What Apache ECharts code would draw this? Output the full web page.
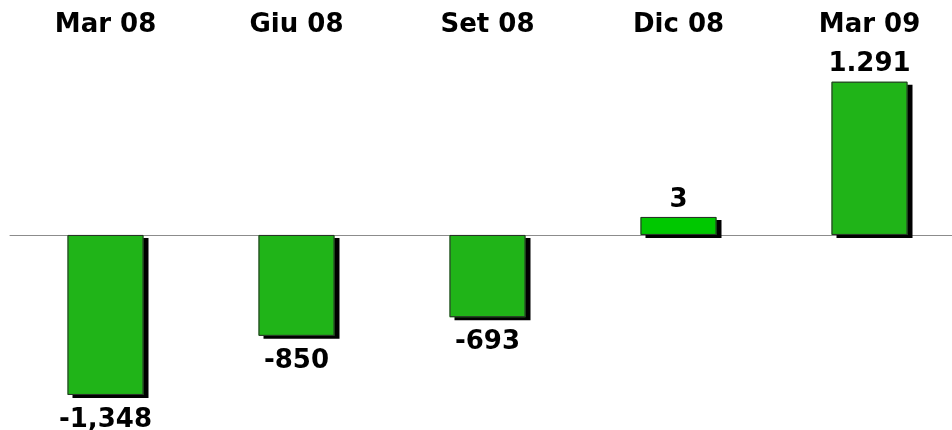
<!DOCTYPE html>
<html>
<head>
<meta charset="utf-8">
<script src="https://cdn.jsdelivr.net/npm/echarts@6/dist/echarts.min.js"></script>
<style>
  html, body { margin: 0; padding: 0; background: #fff; overflow: hidden; }
  #chart { width: 965px; height: 430px; }
</style>
</head>
<body>
<div id="chart"></div>
<script>
// periods and values
const categories = ["Mar 08", "Giu 08", "Set 08", "Dic 08", "Mar 09"];
const values = [-1348, -850, -693, 3, 1291];
// labels as printed on the chart (mixed separators kept as in original)
const valueLabels = ["-1,348", "-850", "-693", "3", "1.291"];

const font = "DejaVu Sans";
const labelFont = {
  color: "#000",
  fontFamily: font,
  fontWeight: "bold",
  fontSize: 26
};

function barData(withLabel) {
  return values.map((v, i) => {
    const item = { value: v };
    if (i === 3) item.itemStyle = { color: "#00c800" };
    if (withLabel) {
      item.label = v < 0
        ? { position: "bottom", distance: 12 }
        : { position: "top", distance: 4 };
    }
    return item;
  });
}

// chart div is a bit wider than the window: last band runs past the edge
const chart = echarts.init(document.getElementById("chart"));

chart.setOption({
  animation: false,
  grid: {
    left: 10,
    right: 0,
    top: 45,
    bottom: 17
  },
  xAxis: [
    {
      type: "category",
      data: categories,
      axisLine: { onZero: true, lineStyle: { color: "#8c8c8c", width: 1 } },
      axisTick: { show: false },
      axisLabel: { show: false }
    },
    {
      type: "category",
      position: "top",
      data: categories,
      axisLine: { show: false },
      axisTick: { show: false },
      axisLabel: Object.assign({ margin: 7 }, labelFont)
    }
  ],
  yAxis: {
    type: "value",
    min: -1500,
    max: 1600,
    show: false,
    splitLine: { show: false }
  },
  series: [
    // shadow layer
    {
      type: "bar",
      data: barData(false),
      barWidth: 76,
      barMinHeight: 18,
      barGap: "-100%",
      silent: true,
      itemStyle: {
        color: "#20b418",
        shadowColor: "#000",
        shadowBlur: 0,
        shadowOffsetX: 5,
        shadowOffsetY: 3
      }
    },
    // bars with outline and labels
    {
      type: "bar",
      data: barData(true),
      barWidth: 76,
      barMinHeight: 18,
      barGap: "-100%",
      itemStyle: {
        color: "#20b418",
        borderColor: "#2a2a2a",
        borderWidth: 1
      },
      label: Object.assign({
        show: true,
        formatter: p => valueLabels[p.dataIndex]
      }, labelFont)
    }
  ]
});
</script>
</body>
</html>
